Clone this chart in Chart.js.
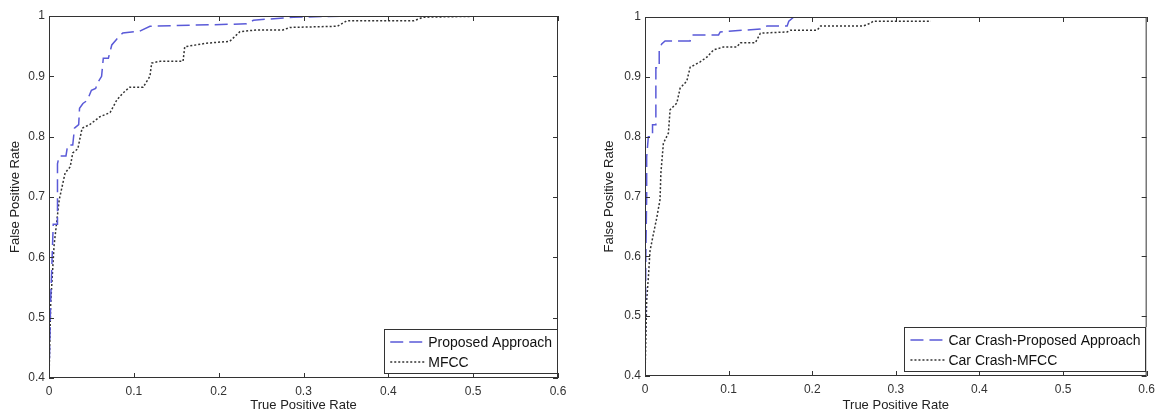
<!DOCTYPE html>
<html>
<head>
<meta charset="utf-8">
<script src="https://cdn.jsdelivr.net/npm/chart.js@4.4.0/dist/chart.umd.min.js"></script>
<style>
  body { margin: 0; background: #fff; width: 1156px; height: 414px; overflow: hidden; position: relative; }
  .box { position: absolute; top: 0; height: 414px; }
</style>
</head>
<body>
<div class="box" style="left:0;width:578px"><canvas id="left"></canvas></div>
<div class="box" style="left:590px;width:571px"><canvas id="right"></canvas></div>
<script>
// left plot: proposed approach vs MFCC
const leftPropX = [0, 0.002, 0.005, 0.01, 0.01, 0.012, 0.02, 0.022, 0.028, 0.03, 0.035, 0.036, 0.04, 0.045, 0.05, 0.055, 0.058, 0.062, 0.064, 0.07, 0.074, 0.08, 0.087, 0.107, 0.119, 0.233, 0.241, 0.288, 0.355];
const leftPropY = [0.4, 0.53, 0.655, 0.655, 0.755, 0.768, 0.768, 0.786, 0.786, 0.814, 0.82, 0.847, 0.855, 0.86, 0.877, 0.88, 0.891, 0.9, 0.93, 0.93, 0.952, 0.962, 0.972, 0.975, 0.983, 0.987, 0.993, 0.998, 1.0];
const leftMfccX = [0, 0.002, 0.006, 0.012, 0.019, 0.025, 0.028, 0.034, 0.039, 0.048, 0.06, 0.072, 0.08, 0.087, 0.095, 0.111, 0.119, 0.121, 0.131, 0.158, 0.16, 0.186, 0.213, 0.225, 0.245, 0.276, 0.284, 0.34, 0.351, 0.43, 0.441, 0.522];
const leftMfccY = [0.4, 0.524, 0.62, 0.695, 0.74, 0.75, 0.773, 0.78, 0.814, 0.82, 0.833, 0.84, 0.861, 0.872, 0.882, 0.882, 0.9, 0.922, 0.925, 0.925, 0.949, 0.955, 0.958, 0.974, 0.977, 0.977, 0.981, 0.983, 0.992, 0.992, 0.998, 1.0];

// right plot: car crash
const rightPropX = [0, 0.001, 0.002, 0.002, 0.004, 0.009, 0.009, 0.013, 0.013, 0.017, 0.017, 0.02, 0.024, 0.054, 0.056, 0.088, 0.09, 0.138, 0.146, 0.17, 0.172, 0.178];
const rightPropY = [0.4, 0.6, 0.7, 0.766, 0.8, 0.8, 0.82, 0.82, 0.915, 0.915, 0.945, 0.955, 0.96, 0.96, 0.97, 0.97, 0.975, 0.98, 0.985, 0.985, 0.993, 1.0];
const rightMfccX = [0, 0.002, 0.004, 0.006, 0.01, 0.014, 0.018, 0.019, 0.022, 0.028, 0.03, 0.038, 0.042, 0.05, 0.054, 0.066, 0.074, 0.082, 0.094, 0.11, 0.114, 0.132, 0.138, 0.17, 0.174, 0.206, 0.21, 0.261, 0.27, 0.273, 0.342];
const rightMfccY = [0.4, 0.527, 0.564, 0.609, 0.637, 0.664, 0.695, 0.739, 0.789, 0.806, 0.845, 0.856, 0.881, 0.893, 0.916, 0.925, 0.933, 0.945, 0.95, 0.95, 0.957, 0.957, 0.973, 0.975, 0.978, 0.978, 0.985, 0.985, 0.99, 0.993, 0.993];

const xTicks = [0, 0.1, 0.2, 0.3, 0.4, 0.5, 0.6];
const yTicks = [0.4, 0.5, 0.6, 0.7, 0.8, 0.9, 1];

const blue = '#5a5ad8';
const dark = '#333';

function pts(xs, ys) {
  return xs.map((x, i) => ({ x: x, y: ys[i] }));
}

// matlab style box, inward ticks and legend in the lower right corner
const matlabBox = {
  id: 'matlabBox',
  afterDraw(chart, args, opts) {
    const c = chart.ctx;
    const a = chart.chartArea;
    const sx = chart.scales.x, sy = chart.scales.y;
    c.save();
    c.strokeStyle = dark;
    c.lineWidth = 1;
    c.setLineDash([]);
    c.strokeRect(a.left + 0.5, a.top + 0.5, a.right - a.left - 1, a.bottom - a.top - 1);
    c.beginPath();
    for (const t of xTicks) {
      const px = Math.round(sx.getPixelForValue(t)) + 0.5;
      c.moveTo(px, a.bottom); c.lineTo(px, a.bottom - 5);
      c.moveTo(px, a.top); c.lineTo(px, a.top + 5);
    }
    for (const t of yTicks) {
      const py = Math.round(sy.getPixelForValue(t)) + 0.5;
      c.moveTo(a.left, py); c.lineTo(a.left + 5, py);
      c.moveTo(a.right, py); c.lineTo(a.right - 5, py);
    }
    c.stroke();

    // legend
    const ds = chart.data.datasets;
    c.font = '14px "Liberation Sans", Arial, sans-serif';
    let tw = 0;
    for (const d of ds) tw = Math.max(tw, c.measureText(d.label).width);
    const w = 6 + 35 + 3 + tw + 6;
    const h = 44;
    const bx = a.right - w, by = a.bottom - 5 - h;
    c.fillStyle = '#fff';
    c.fillRect(bx, by, w, h);
    c.strokeStyle = dark;
    c.strokeRect(Math.round(bx) + 0.5, Math.round(by) + 0.5, Math.round(w) - 1, h);
    ds.forEach((d, i) => {
      const ly = by + 13 + i * 20;
      c.beginPath();
      c.strokeStyle = d.borderColor;
      c.lineWidth = d.borderWidth;
      c.setLineDash(d.borderDash);
      c.moveTo(bx + 6, ly); c.lineTo(bx + 41, ly);
      c.stroke();
      c.setLineDash([]);
      c.fillStyle = '#111';
      c.textBaseline = 'middle';
      c.textAlign = 'left';
      c.fillText(d.label, bx + 44, ly + 1);
    });
    c.restore();
  }
};

function makeChart(id, labels, prop, mfcc, yWidth, xHeight, pad, yTitlePad) {
  return new Chart(document.getElementById(id), {
    type: 'scatter',
    data: {
      datasets: [{
        label: labels[0],
        data: prop,
        showLine: true,
        borderColor: blue,
        borderWidth: 1.5,
        borderDash: [13, 6],
        pointRadius: 0,
        tension: 0
      }, {
        label: labels[1],
        data: mfcc,
        showLine: true,
        borderColor: dark,
        borderWidth: 1.5,
        borderDash: [2, 2],
        pointRadius: 0,
        tension: 0
      }]
    },
    options: {
      responsive: true,
      maintainAspectRatio: false,
      animation: false,
      layout: { padding: pad },
      plugins: {
        legend: { display: false },
        tooltip: { enabled: false }
      },
      scales: {
        x: {
          type: 'linear',
          min: 0, max: 0.6,
          afterBuildTicks: s => { s.ticks = xTicks.map(v => ({ value: v })); },
          afterFit: s => { s.height = xHeight; },
          ticks: {
            color: '#333',
            padding: 6,
            font: { size: 12, family: '"Liberation Sans", Arial, sans-serif' },
            callback: v => String(Number(v.toFixed(1)))
          },
          grid: { display: false, drawTicks: false, tickLength: 0 },
          border: { display: false },
          title: {
            display: true,
            text: 'True Positive Rate',
            color: '#222',
            font: { size: 13, family: '"Liberation Sans", Arial, sans-serif' },
            padding: { top: 0, bottom: 1 }
          }
        },
        y: {
          type: 'linear',
          min: 0.4, max: 1,
          afterBuildTicks: s => { s.ticks = yTicks.map(v => ({ value: v })); },
          afterFit: s => { s.width = yWidth; },
          ticks: {
            color: '#333',
            padding: 4,
            font: { size: 12, family: '"Liberation Sans", Arial, sans-serif' },
            callback: v => String(Number(v.toFixed(1)))
          },
          grid: { display: false, drawTicks: false, tickLength: 0 },
          border: { display: false },
          title: {
            display: true,
            text: 'False Positive Rate',
            color: '#222',
            font: { size: 13, family: '"Liberation Sans", Arial, sans-serif' },
            padding: { top: yTitlePad, bottom: 0 }
          }
        }
      }
    },
    plugins: [matlabBox]
  });
}

makeChart('left', ['Proposed Approach', 'MFCC'],
  pts(leftPropX, leftPropY), pts(leftMfccX, leftMfccY),
  49, 36, { left: 0, right: 20, top: 16, bottom: 0 }, 8);

makeChart('right', ['Car Crash-Proposed Approach', 'Car Crash-MFCC'],
  pts(rightPropX, rightPropY), pts(rightMfccX, rightMfccY),
  55, 38, { left: 0, right: 5, top: 17, bottom: 0 }, 12);
</script>
</body>
</html>
